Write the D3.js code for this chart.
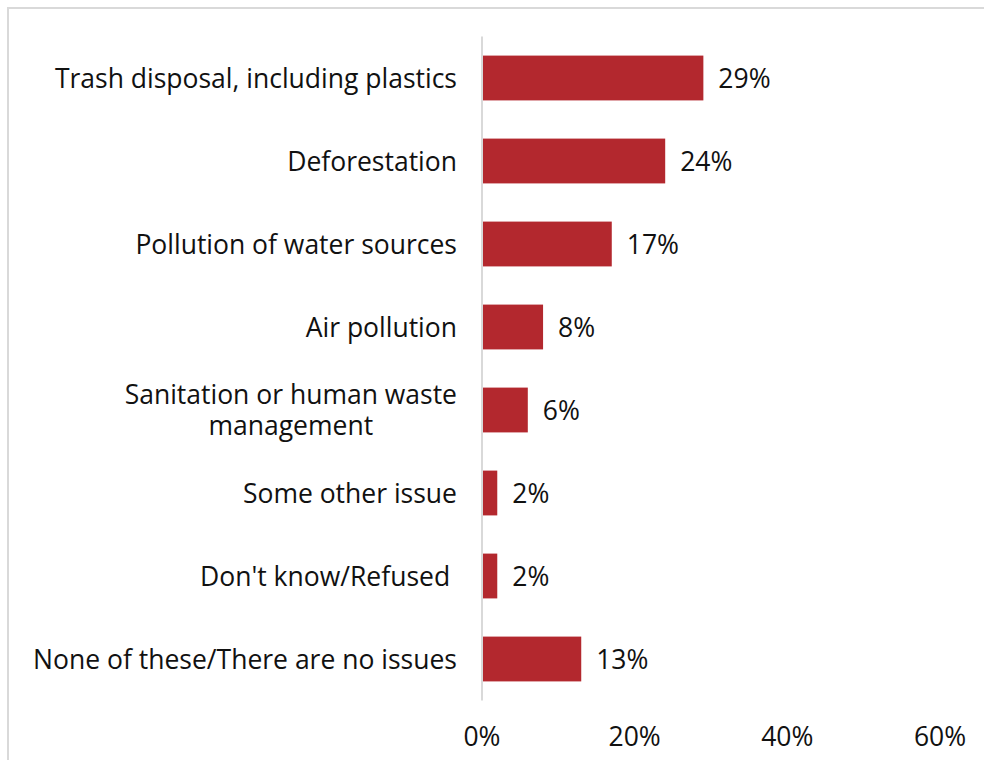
<!DOCTYPE html>
<html>
<head>
<meta charset="utf-8">
<script src="https://cdn.jsdelivr.net/npm/d3@7"></script>
<style>
  html, body { margin: 0; padding: 0; background: #fff; }
  svg text { font-family: "Open Sans", "DejaVu Sans", sans-serif; fill: #111; font-weight: 400; }
</style>
</head>
<body>
<svg id="chart" width="984" height="760"></svg>
<script>
// Environmental issues named as most serious (share of respondents)
const categories = [
  ["Trash disposal, including plastics"],
  ["Deforestation"],
  ["Pollution of water sources"],
  ["Air pollution"],
  ["Sanitation or human waste", "management"],
  ["Some other issue"],
  ["Don't know/Refused\u00a0"],
  ["None of these/There are no issues"]
];
const values = [29, 24, 17, 8, 6, 2, 2, 13];
const xTicks = [0, 20, 40, 60];

const svg = d3.select("#chart");
const fontSize = 26.5;

// outer frame
svg.append("rect")
  .attr("x", 8).attr("y", 8)
  .attr("width", 990).attr("height", 770)
  .attr("fill", "none")
  .attr("stroke", "#d9d9d9")
  .attr("stroke-width", 2);

const margin = { left: 482, top: 36.5 };
const x = d3.scaleLinear().domain([0, 60]).range([margin.left, 940]);
const y = d3.scaleBand()
  .domain(d3.range(values.length))
  .range([margin.top, margin.top + 83 * values.length])
  .paddingInner(0.46)
  .paddingOuter(0.23);

// bars
svg.append("g").selectAll("rect")
  .data(values)
  .join("rect")
  .attr("x", x(0))
  .attr("y", (d, i) => y(i))
  .attr("width", d => x(d) - x(0))
  .attr("height", y.bandwidth())
  .attr("fill", "#b3282e");

// vertical category axis line
svg.append("line")
  .attr("x1", x(0)).attr("x2", x(0))
  .attr("y1", y.range()[0]).attr("y2", y.range()[1])
  .attr("stroke", "#d9d9d9")
  .attr("stroke-width", 2);

// value labels
svg.append("g").selectAll("text")
  .data(values)
  .join("text")
  .attr("x", d => x(d) + 15)
  .attr("y", (d, i) => y(i) + y.bandwidth() / 2)
  .attr("dy", "0.36em")
  .attr("font-size", fontSize)
  .text(d => d + "%");

// category labels (wrapped ones centred within the right-aligned block)
const labelRight = x(0) - 25;
const lineH = 30.5;
const catG = svg.append("g");
categories.forEach((lines, i) => {
  const cy = y(i) + y.bandwidth() / 2;
  const t = catG.append("text").attr("font-size", fontSize);
  if (lines.length === 1) {
    t.attr("x", labelRight).attr("y", cy).attr("dy", "0.36em")
      .attr("text-anchor", "end").text(lines[0]);
  } else {
    const spans = lines.map((s, k) => t.append("tspan")
      .attr("y", cy + (k - (lines.length - 1) / 2) * lineH)
      .attr("dy", "0.36em")
      .text(s));
    const w = d3.max(spans, s => s.node().getComputedTextLength());
    t.attr("text-anchor", "middle");
    spans.forEach(s => s.attr("x", labelRight - w / 2));
  }
});

// value axis tick labels
svg.append("g").selectAll("text")
  .data(xTicks)
  .join("text")
  .attr("x", d => x(d))
  .attr("y", 746)
  .attr("text-anchor", "middle")
  .attr("font-size", fontSize)
  .text(d => d + "%");
</script>
</body>
</html>
